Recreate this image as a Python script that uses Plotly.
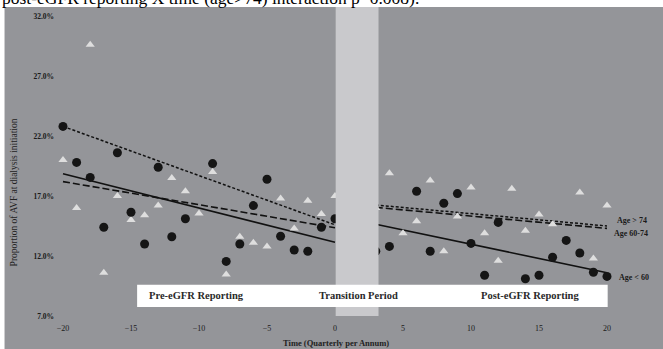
import plotly.graph_objects as go

# ---- data ----
circle_x = [-20, -19, -18, -17, -16, -15, -14, -13, -12, -11, -9, -8, -7, -6, -5, -4, -3, -2, -1, 0,
            3, 4, 6, 7, 8, 9, 10, 11, 12, 14, 15, 16, 17, 18, 19, 20]
circle_y = [22.8, 19.8, 18.55, 14.4, 20.6, 15.65, 13.0, 19.4, 13.6, 15.1, 19.7, 11.55, 13.0, 16.2, 18.4, 13.65, 12.5, 12.4, 14.4, 15.1,
            12.4, 12.8, 17.4, 12.4, 16.4, 17.2, 13.05, 10.4, 14.8, 10.1, 10.4, 11.9, 13.3, 12.25, 10.65, 10.3]

triangle_x = [-20, -19, -18, -17, -16, -15, -14, -13, -12, -11, -10, -9, -8, -7, -6, -5, -4, -3, -2, -1, 0,
              3, 4, 5, 6, 7, 8, 9, 10, 11, 12, 13, 14, 15, 16, 18, 19, 20]
triangle_y = [20.0, 16.0, 29.6, 10.6, 17.0, 15.0, 15.4, 16.2, 18.5, 17.4, 15.55, 19.0, 10.45, 13.6, 13.1, 12.8, 16.8, 14.3, 16.6, 15.5, 17.0,
              16.0, 18.9, 13.9, 14.9, 18.3, 12.4, 15.3, 17.7, 13.9, 11.6, 17.6, 14.1, 15.45, 14.65, 17.3, 11.8, 16.2]

# fitted trend segments (pre: -20..0, post: 3..20)
pre_x = [-20, 0]
post_x = [3, 20]
lt60_pre = [18.85, 13.15]
lt60_post = [14.65, 10.6]
mid_pre = [18.2, 14.35]
mid_post = [16.05, 14.3]
gt74_pre = [22.8, 14.6]
gt74_post = [16.25, 14.5]

group_labels = ["Age > 74", "Age 60-74", "Age &lt; 60"]
group_label_y = [14.95, 13.9, 10.25]

period_labels = ["Pre-eGFR Reporting", "Transition Period", "Post-eGFR Reporting"]
period_label_x = [-10.2, 1.7, 14.35]

x_ticks = [-20, -15, -10, -5, 0, 5, 10, 15, 20]
y_ticks = [7, 12, 17, 22, 27, 32]
y_tick_text = ["7.0%", "12.0%", "17.0%", "22.0%", "27.0%", "32.0%"]

BG = "#949599"
BAND = "#c9c9cc"
SERIF = "Liberation Serif, Times New Roman, serif"

fig = go.Figure()

line_black = "#111111"
for xs, ys, dash, w in [
    (pre_x, lt60_pre, "solid", 1.6), (post_x, lt60_post, "solid", 1.6),
    (pre_x, mid_pre, "7px,3px", 1.6), (post_x, mid_post, "7px,3px", 1.6),
    (pre_x, gt74_pre, "3px,2px", 1.5), (post_x, gt74_post, "3px,2px", 1.5),
]:
    fig.add_trace(go.Scatter(x=xs, y=ys, mode="lines",
                             line=dict(color=line_black, width=w, dash=dash),
                             showlegend=False, hoverinfo="skip"))

fig.add_trace(go.Scatter(x=triangle_x, y=triangle_y, mode="markers",
                         marker=dict(symbol="triangle-up", size=8, color="#dedede",
                                     line=dict(width=0)),
                         showlegend=False))
fig.add_trace(go.Scatter(x=circle_x, y=circle_y, mode="markers",
                         marker=dict(symbol="circle", size=9, color="#151515",
                                     line=dict(width=0)),
                         showlegend=False))

shapes = [
    # gray page background
    dict(type="rect", xref="paper", yref="paper", x0=-0.083, x1=1.02, y0=-0.12, y1=1.0,
         fillcolor=BG, line=dict(width=0), layer="below"),
    # transition band
    dict(type="rect", xref="x", yref="paper", x0=0.05, x1=3.2, y0=0, y1=1,
         fillcolor=BAND, line=dict(width=0), layer="above"),
    # label box
    dict(type="rect", xref="x", yref="y", x0=-14.55, x1=20.05, y0=7.75, y1=9.6,
         fillcolor="white", line=dict(width=0), layer="above"),
]

annotations = []
for t, px in zip(period_labels, period_label_x):
    annotations.append(dict(x=px, y=8.68, xref="x", yref="y", text="<b>" + t + "</b>", showarrow=False,
                            font=dict(family=SERIF, size=10.5, color="#2a2a2a")))
group_label_x = [20.6, 20.4, 20.75]
for t, gx, gy in zip(group_labels, group_label_x, group_label_y):
    annotations.append(dict(x=gx, y=gy, xref="x", yref="y", text="<b>" + t + "</b>",
                            showarrow=False, xanchor="left", yanchor="middle",
                            font=dict(family=SERIF, size=8, color="#1a1a1a")))
annotations.append(dict(x=(14 - 55) / 608, y=0.40, xref="paper", yref="paper",
                        xanchor="center", yanchor="middle",
                        text="Proportion of AVF at dialysis initiation", textangle=-90,
                        showarrow=False, font=dict(family=SERIF, size=9.5, color="#222222")))
annotations.append(dict(x=0.462, y=-0.086, xref="paper", yref="paper",
                        xanchor="center", yanchor="middle",
                        text="<b>Time (Quarterly per Annum)</b>", showarrow=False,
                        font=dict(family=SERIF, size=8.5, color="#222222")))
annotations.append(dict(x=-0.09, y=1.0, xref="paper", yref="paper", xanchor="left",
                        yanchor="bottom", yshift=-3,
                        text="post-eGFR reporting X time (age&gt;74) interaction p=0.008).",
                        showarrow=False, font=dict(family=SERIF, size=17.5, color="black")))

fig.update_layout(
    width=663, height=349,
    margin=dict(l=55, r=0, t=7, b=33),
    paper_bgcolor="white", plot_bgcolor="rgba(0,0,0,0)",
    shapes=shapes, annotations=annotations,
    xaxis=dict(range=[-20.588, 24.118], tickvals=x_ticks, showgrid=False, zeroline=False,
               showline=False, ticks="outside", ticklen=4, tickcolor="rgba(0,0,0,0)",
               tickfont=dict(family=SERIF, size=8, color="#1a1a1a"), tickprefix="<b>",
               ticksuffix="</b>"),
    yaxis=dict(range=[7, 32.75], tickvals=y_ticks, ticktext=["<b>" + s + "</b>" for s in y_tick_text],
               showgrid=False, zeroline=False, showline=False, ticks="",
               tickfont=dict(family=SERIF, size=7.5, color="#1a1a1a")),
)

fig.write_html("out.html", config={"displayModeBar": False},
               post_script="document.body.style.margin='0';document.body.style.overflow='hidden';")
